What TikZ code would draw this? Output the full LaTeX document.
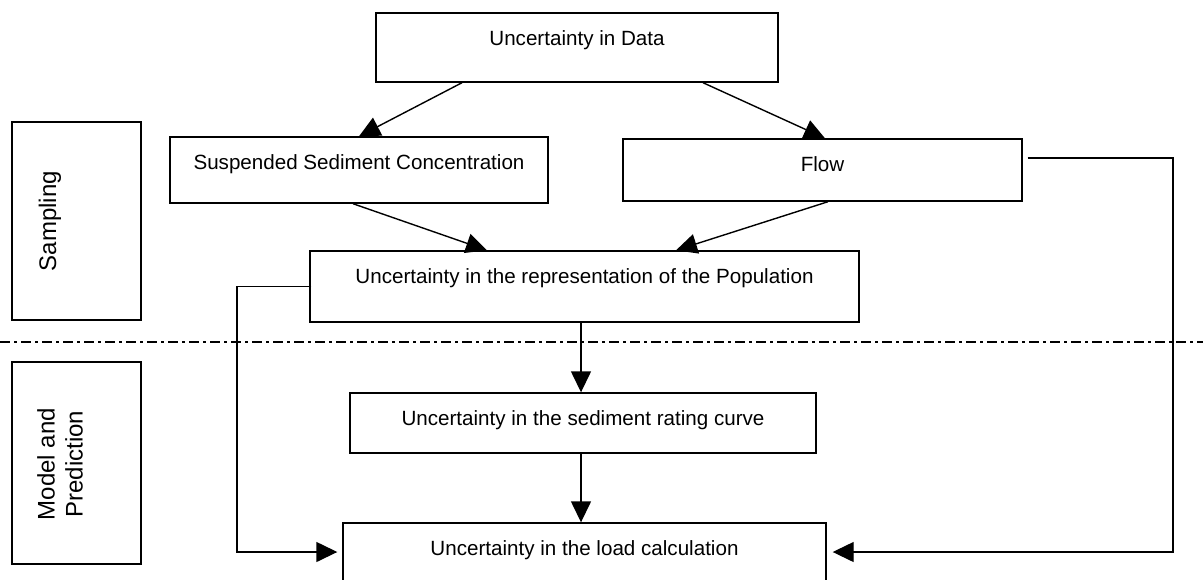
\documentclass[tikz,border=0pt]{standalone}
\usepackage{fontspec}
\setmainfont{Liberation Sans}
\usetikzlibrary{arrows.meta}
\tikzset{
  box/.style={draw, line width=.7pt, inner sep=0pt, text height=16.25pt},
  side/.style={draw, line width=.7pt, inner sep=0pt, minimum width=64.5pt},
  sidetext/.style={rotate=90, align=center, font=\fontsize{12pt}{14pt}\selectfont},
  arr/.style={line width=.7pt, -{Triangle[length=10.5pt,width=10pt]}}
}
\begin{document}
\begin{tikzpicture}[x=0.5pt,y=-0.5pt,font=\fontsize{10.3pt}{14pt}\selectfont]
\def\sepline{(0,342) -- (1203,342)}
\useasboundingbox (0,0) rectangle (1203,579);
% phases
\node[side, minimum height=99pt] (sampbox) at (76.5,221) {};
\node[sidetext] (samptext) at (50,221) {Sampling};
\node[side, minimum height=101pt] (modbox) at (76.5,463) {};
\node[sidetext] (modtext) at (60,464) {Model and\\Prediction};
\draw[line width=.7pt, dash pattern=on 5pt off 2pt on 1.5pt off 2pt] \sepline;
% boxes
\node[box, minimum width=201pt, text depth=18.25pt] (data) at (577,47.5) {Uncertainty in Data};
\node[box, minimum width=189pt, text depth=16.75pt] (ssc) at (359,170) {Suspended Sediment Concentration};
\node[box, minimum width=199.5pt, text depth=14.75pt] (flow) at (822.5,170) {Flow};
\node[box, minimum width=274.5pt, text depth=19.25pt] (pop) at (584.5,286.5) {Uncertainty in the representation of the Population};
\node[box, minimum width=233pt, text depth=13.75pt] (rating) at (583,423) {Uncertainty in the sediment rating curve};
\node[box, minimum width=241.5pt, text depth=12.75pt] (load) at (584.5,552) {Uncertainty in the load calculation};
% arrows
\draw[arr] ([xshift=-57.5pt]data.south) -- (ssc.north);
\draw[arr] ([xshift=63pt]data.south) -- ([xshift=1.25pt]flow.north);
\draw[arr] ([xshift=-3pt]ssc.south) -- ([xshift=-48.75pt]pop.north);
\draw[arr] ([xshift=2.75pt]flow.south) -- ([xshift=45.75pt]pop.north);
\draw[arr] ([xshift=-1.75pt]pop.south) -- ([xshift=-1pt]rating.north);
\draw[arr] ([xshift=-1pt]rating.south) -- ([xshift=-1.75pt]load.north);
\draw[arr] ([xshift=1pt]pop.west) -- (237,286.5) |- ([xshift=-2.5pt]load.west);
\draw[arr] ([xshift=2.5pt,yshift=6pt]flow.east) -- (1173,158) |- ([xshift=3pt]load.east);
\end{tikzpicture}
\end{document}
